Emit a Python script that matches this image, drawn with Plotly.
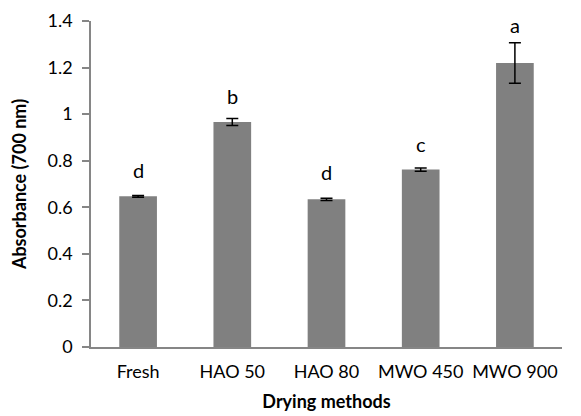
import plotly.graph_objects as go

categories = ["Fresh", "HAO 50", "HAO 80", "MWO 450", "MWO 900"]
values = [0.647, 0.966, 0.634, 0.762, 1.220]
errors = [0.004, 0.015, 0.005, 0.007, 0.087]
letters = ["d", "b", "d", "c", "a"]
letter_y = [0.76, 1.078, 0.751, 0.871, 1.382]
y_ticks = [0, 0.2, 0.4, 0.6, 0.8, 1.0, 1.2, 1.4]
y_tick_text = ["0", "0.2", "0.4", "0.6", "0.8", "1", "1.2", "1.4"]

FONT = "Lato"

fig = go.Figure(go.Bar(
    x=categories, y=values,
    marker=dict(color="#808080", line=dict(width=0)),
    error_y=dict(type="data", array=errors, color="black", thickness=1.5, width=6),
))

for c, t, ly in zip(categories, letters, letter_y):
    fig.add_annotation(x=c, y=ly, text=t, showarrow=False,
                       font=dict(family=FONT, size=20, color="black"),
                       xanchor="center", yanchor="middle")

# the page body has an 8px default margin, so offset the figure margins
fig.update_layout(
    width=581, height=416,
    margin=dict(l=83, r=27, t=13, b=77, autoexpand=False),
    paper_bgcolor="white", plot_bgcolor="white",
    bargap=0.6, showlegend=False,
    font=dict(family=FONT, size=18, color="black"),
)
fig.update_xaxes(
    automargin=False,
    showline=True, linecolor="#868686", linewidth=1.5,
    ticks="", showgrid=False, ticklabelstandoff=8,
    tickfont=dict(family=FONT, size=18, color="black"),
    title=dict(text="<b>Drying methods</b>", font=dict(family=FONT, size=18, color="black"), standoff=14),
)
fig.update_yaxes(
    automargin=False,
    range=[0, 1.4], tickvals=y_ticks, ticktext=y_tick_text,
    showline=True, linecolor="#868686", linewidth=1.5,
    ticks="outside", ticklen=7, tickcolor="#868686", tickwidth=1.5,
    showgrid=False, zeroline=False, ticklabelstandoff=6,
    tickfont=dict(family=FONT, size=18, color="black"),
    title=dict(text="<b>Absorbance (700 nm)</b>", font=dict(family=FONT, size=18, color="black"), standoff=19),
)

fig.write_html("out.html")
